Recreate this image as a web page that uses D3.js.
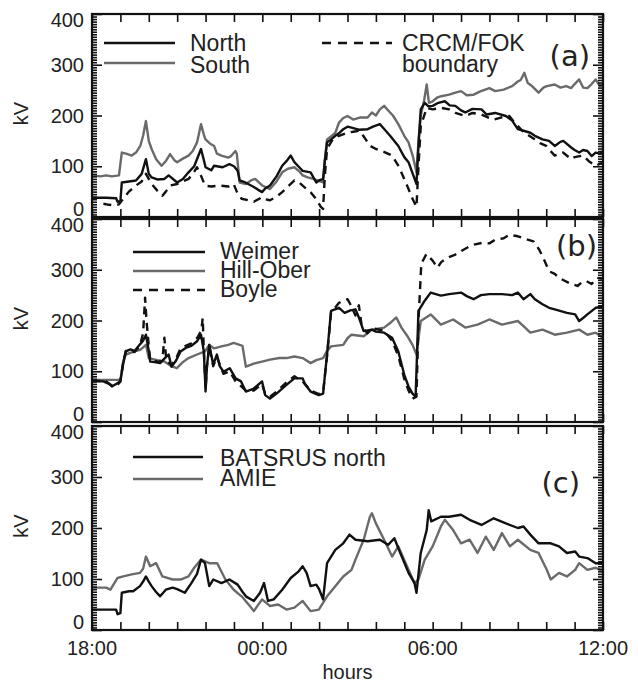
<!DOCTYPE html>
<html><head><meta charset="utf-8">
<script src="https://cdn.jsdelivr.net/npm/d3@7"></script>
<style>html,body{margin:0;padding:0;background:#fff;}svg{display:block;}</style>
</head><body>
<svg id="chart" width="638" height="684"></svg>
<script>
// hours after 18:00, value in kV
const yTickValues = [0, 100, 200, 300, 400];
const xTickHours = [0, 6, 12, 18];
const xTickLabels = ["18:00", "00:00", "06:00", "12:00"];

const northA = [[0,38],[0.5,38],[0.85,37],[0.9,30],[1.0,31],[1.05,68],[1.3,70],[1.55,72],[1.75,85],[1.9,114],[2.0,85],[2.1,78],[2.3,74],[2.55,75],[2.7,82],[3.0,68],[3.2,75],[3.4,88],[3.6,100],[3.84,134],[3.95,110],[4.0,98],[4.2,92],[4.3,101],[4.6,98],[4.84,104],[5.0,100],[5.13,91],[5.2,72],[5.4,68],[5.7,59],[5.9,52],[5.99,49],[6.1,56],[6.27,62],[6.5,80],[6.7,101],[6.85,110],[7.0,121],[7.13,108],[7.3,98],[7.42,91],[7.7,88],[7.9,68],[8.0,72],[8.14,75],[8.2,110],[8.28,147],[8.4,152],[8.57,160],[8.7,165],[8.85,173],[9.0,178],[9.14,176],[9.4,172],[9.71,173],[9.9,178],[10.14,183],[10.3,173],[10.5,160],[10.79,140],[11.0,118],[11.15,108],[11.3,85],[11.43,65],[11.5,140],[11.58,212],[11.72,225],[11.85,218],[12.0,219],[12.2,225],[12.43,228],[12.6,220],[12.8,219],[13.0,210],[13.15,206],[13.4,213],[13.72,212],[13.9,202],[14.2,205],[14.58,199],[14.8,190],[15.0,173],[15.2,170],[15.44,166],[15.6,160],[15.87,153],[16.1,150],[16.3,140],[16.5,148],[16.6,150],[16.88,137],[17.0,132],[17.16,127],[17.3,132],[17.45,130],[17.6,120],[17.74,127],[17.9,125],[18,130]];

const southA = [[0,82],[0.3,80],[0.5,82],[0.7,80],[0.95,82],[1.05,127],[1.2,125],[1.4,121],[1.55,127],[1.7,140],[1.8,160],[1.9,189],[2.0,150],[2.1,134],[2.26,114],[2.45,101],[2.6,110],[2.75,124],[2.9,112],[3.0,108],[3.2,115],[3.4,121],[3.55,130],[3.7,147],[3.84,183],[3.95,160],[4.0,153],[4.15,145],[4.3,140],[4.4,125],[4.56,121],[4.8,117],[4.9,120],[5.05,130],[5.1,125],[5.2,68],[5.42,65],[5.6,72],[5.75,75],[6.0,62],[6.27,55],[6.5,70],[6.7,88],[6.9,95],[7.13,98],[7.3,90],[7.42,82],[7.6,78],[7.8,75],[8.14,68],[8.2,110],[8.28,153],[8.45,160],[8.57,166],[8.7,186],[8.85,195],[9.0,199],[9.2,192],[9.43,196],[9.71,196],[9.86,206],[10.0,200],[10.14,212],[10.29,219],[10.45,209],[10.6,200],[10.79,183],[11.0,160],[11.15,147],[11.3,120],[11.43,88],[11.5,150],[11.58,199],[11.7,230],[11.79,261],[11.87,225],[12.0,228],[12.15,235],[12.3,238],[12.58,241],[12.8,245],[13.0,248],[13.2,240],[13.44,241],[13.7,248],[14.0,254],[14.2,248],[14.5,251],[14.8,258],[15.0,267],[15.1,270],[15.23,284],[15.35,264],[15.5,258],[15.73,245],[15.9,255],[16.02,258],[16.3,261],[16.5,255],[16.7,258],[16.88,254],[17.0,262],[17.16,271],[17.3,255],[17.45,254],[17.6,262],[17.74,271],[17.9,258],[18,264]];

const crcmA = [[0.4,26],[0.6,24],[0.8,23],[0.95,25],[1.1,36],[1.3,50],[1.55,62],[1.75,70],[1.9,85],[2.0,75],[2.1,65],[2.3,52],[2.48,42],[2.6,50],[2.75,62],[3.0,65],[3.2,70],[3.4,75],[3.55,85],[3.7,98],[3.85,80],[3.98,62],[4.2,60],[4.5,62],[4.8,60],[4.99,65],[5.1,50],[5.27,36],[5.5,33],[5.7,30],[5.99,39],[6.1,35],[6.27,33],[6.5,40],[6.7,49],[6.9,60],[7.13,72],[7.3,68],[7.5,58],[7.7,49],[7.9,35],[8.06,20],[8.14,16],[8.2,80],[8.28,134],[8.5,155],[8.7,160],[9.0,166],[9.2,168],[9.43,170],[9.64,153],[9.8,140],[10.0,134],[10.3,128],[10.57,121],[10.8,100],[11.0,75],[11.15,55],[11.29,36],[11.43,20],[11.5,100],[11.58,179],[11.79,215],[12.0,212],[12.3,215],[12.58,212],[12.8,205],[13.15,199],[13.4,205],[13.72,202],[14.0,195],[14.15,192],[14.4,196],[14.7,199],[14.9,185],[15.16,170],[15.4,160],[15.59,153],[15.8,145],[16.0,140],[16.15,130],[16.3,121],[16.59,127],[16.88,114],[17.0,118],[17.3,121],[17.5,110],[17.74,101],[17.9,105],[18,108]];

const weimerB = [[0,80],[0.4,80],[0.6,75],[0.7,70],[0.85,75],[1.0,80],[1.1,115],[1.19,139],[1.35,143],[1.5,140],[1.69,153],[1.8,160],[1.9,172],[2.0,140],[2.05,119],[2.2,118],[2.4,116],[2.55,125],[2.7,133],[2.8,109],[2.95,120],[3.12,139],[3.3,146],[3.5,150],[3.7,159],[3.84,172],[3.94,139],[4.0,60],[4.05,110],[4.13,152],[4.27,113],[4.4,133],[4.5,110],[4.63,99],[4.85,106],[5.06,86],[5.25,80],[5.42,60],[5.7,66],[5.99,80],[6.1,53],[6.27,46],[6.5,56],[6.85,73],[7.0,80],[7.13,86],[7.42,86],[7.5,75],[7.7,60],[7.99,53],[8.14,56],[8.2,90],[8.28,133],[8.42,219],[8.7,225],[8.9,215],[9.1,220],[9.28,222],[9.4,206],[9.57,179],[9.86,182],[10.0,178],[10.29,176],[10.57,166],[10.79,139],[11.0,93],[11.15,70],[11.29,56],[11.4,50],[11.5,219],[11.72,239],[11.93,255],[12.29,249],[12.58,252],[13.0,255],[13.2,248],[13.44,242],[13.7,250],[14.0,252],[14.44,252],[14.8,250],[15.0,255],[15.2,242],[15.44,252],[15.6,242],[15.87,232],[16.1,225],[16.3,222],[16.73,215],[17.02,212],[17.16,199],[17.3,205],[17.45,212],[17.74,225],[18,227]];

const hillB = [[0,83],[0.5,83],[1.0,83],[1.1,120],[1.19,133],[1.5,139],[1.7,142],[1.9,152],[2.0,126],[2.3,122],[2.55,119],[2.8,110],[2.99,106],[3.2,118],[3.4,126],[3.7,133],[3.98,139],[4.13,152],[4.3,145],[4.56,149],[4.8,152],[4.99,156],[5.2,152],[5.3,150],[5.42,109],[5.7,115],[5.99,119],[6.27,123],[6.6,126],[6.85,126],[7.13,129],[7.42,126],[7.7,116],[7.9,122],[8.14,126],[8.28,140],[8.42,149],[8.85,152],[9.0,165],[9.14,172],[9.57,169],[9.86,182],[10.29,186],[10.5,195],[10.72,206],[10.9,186],[11.1,170],[11.29,152],[11.43,133],[11.58,199],[11.93,212],[12.29,192],[12.72,202],[13.15,186],[13.58,192],[14.0,202],[14.44,192],[15.0,199],[15.2,189],[15.44,176],[15.87,182],[16.3,172],[16.73,176],[17.16,182],[17.45,172],[17.74,176],[18,166]];

const boyleB = [[0,82],[0.5,80],[0.7,72],[0.85,70],[1.0,80],[1.1,118],[1.19,140],[1.5,138],[1.69,150],[1.8,175],[1.87,245],[1.92,200],[2.0,150],[2.05,122],[2.4,118],[2.5,135],[2.55,166],[2.62,120],[2.8,112],[3.0,130],[3.12,145],[3.3,150],[3.5,155],[3.7,165],[3.85,180],[3.9,205],[3.94,140],[4.0,65],[4.05,110],[4.13,150],[4.27,110],[4.4,128],[4.63,95],[4.85,100],[5.06,80],[5.42,62],[5.7,62],[5.99,75],[6.1,55],[6.27,50],[6.5,60],[6.85,78],[7.13,90],[7.42,80],[7.7,62],[7.99,55],[8.14,58],[8.28,130],[8.42,215],[8.7,235],[9.0,242],[9.1,232],[9.28,210],[9.4,230],[9.5,190],[9.7,175],[9.86,185],[10.29,180],[10.57,160],[10.79,130],[11.0,85],[11.15,62],[11.29,46],[11.43,50],[11.5,199],[11.6,312],[11.78,331],[12.0,318],[12.17,304],[12.3,315],[12.5,323],[12.8,330],[13.1,340],[13.4,349],[13.75,353],[14.0,352],[14.2,359],[14.5,362],[14.7,369],[15.0,366],[15.2,362],[15.55,356],[15.75,340],[15.9,323],[16.1,297],[16.3,292],[16.45,284],[16.8,274],[17.1,268],[17.25,275],[17.4,278],[17.6,272],[17.8,284],[18,282]];

const batsC = [[0,40],[0.5,40],[0.85,40],[0.9,31],[1.0,33],[1.05,73],[1.3,76],[1.45,76],[1.69,86],[1.8,95],[1.9,105],[2.0,95],[2.1,86],[2.25,75],[2.4,66],[2.6,79],[2.84,83],[3.0,80],[3.27,73],[3.5,92],[3.7,110],[3.84,138],[3.98,131],[4.13,86],[4.27,99],[4.56,92],[4.84,99],[5.13,89],[5.3,75],[5.42,66],[5.7,57],[5.92,73],[6.06,92],[6.2,57],[6.4,60],[6.7,79],[7.0,102],[7.28,115],[7.42,125],[7.56,112],[7.7,86],[7.9,89],[8.0,80],[8.14,60],[8.28,131],[8.57,157],[8.85,170],[9.07,187],[9.28,177],[9.71,174],[10.14,177],[10.43,167],[10.65,180],[10.86,151],[11.15,112],[11.36,92],[11.43,73],[11.58,151],[11.79,196],[11.86,235],[11.95,213],[12.29,222],[12.58,222],[13.0,226],[13.3,216],[13.72,206],[14.15,219],[14.58,209],[15.0,200],[15.2,203],[15.44,187],[15.73,170],[16.16,170],[16.45,164],[16.73,151],[17.02,154],[17.16,144],[17.45,141],[17.74,131],[18,131]];

const amieC = [[0,83],[0.5,83],[0.65,79],[0.9,102],[1.1,105],[1.4,109],[1.69,112],[1.8,120],[1.9,144],[2.05,125],[2.26,131],[2.48,105],[2.84,99],[3.12,99],[3.4,105],[3.6,122],[3.84,138],[4.13,131],[4.41,131],[4.7,99],[4.99,79],[5.27,66],[5.56,47],[5.7,37],[5.99,60],[6.27,47],[6.56,50],[6.85,40],[7.13,44],[7.42,57],[7.7,37],[7.99,40],[8.28,66],[8.57,86],[8.85,105],[9.14,118],[9.28,138],[9.57,177],[9.79,222],[9.86,229],[10.0,209],[10.29,177],[10.57,144],[10.79,164],[11.15,118],[11.36,92],[11.5,99],[11.72,138],[12.0,164],[12.29,203],[12.43,216],[12.72,196],[13.0,170],[13.3,177],[13.58,151],[13.87,183],[14.15,157],[14.44,190],[14.72,164],[15.0,177],[15.44,157],[15.73,151],[16.02,118],[16.16,99],[16.45,112],[16.73,105],[17.02,118],[17.16,131],[17.45,118],[17.74,122],[18,115]];

const BLACK = "#111", GRAY = "#6a6a6a";
const FONT = "'Liberation Sans', Arial, Helvetica, sans-serif";

const panels = [
  { top: 14, bottom: 217, tag: "(a)", tagRight: 590, tagBase: 66,
    series: [{d: southA, c: GRAY}, {d: northA, c: BLACK}, {d: crcmA, c: BLACK, dash: "8,6"}],
    legend: [
      {x1: 104, x2: 175, y: 43, c: BLACK, label: "North", tx: 190, ty: 51},
      {x1: 104, x2: 175, y: 63, c: GRAY, label: "South", tx: 190, ty: 73},
      {x1: 322, x2: 392, y: 43, c: BLACK, dash: "9,7", label: "CRCM/FOK", tx: 402, ty: 51},
      {label: "boundary", tx: 402, ty: 72}
    ]},
  { top: 219, bottom: 422, tag: "(b)", tagRight: 597, tagBase: 256,
    series: [{d: hillB, c: GRAY}, {d: weimerB, c: BLACK}, {d: boyleB, c: BLACK, dash: "8,6"}],
    legend: [
      {x1: 133, x2: 205, y: 252, c: BLACK, label: "Weimer", tx: 220, ty: 259},
      {x1: 133, x2: 205, y: 271, c: GRAY, label: "Hill-Ober", tx: 220, ty: 278},
      {x1: 133, x2: 205, y: 290, c: BLACK, dash: "9,7", label: "Boyle", tx: 220, ty: 297}
    ]},
  { top: 426, bottom: 630, tag: "(c)", tagRight: 580, tagBase: 493,
    series: [{d: amieC, c: GRAY}, {d: batsC, c: BLACK}],
    legend: [
      {x1: 133, x2: 203, y: 457, c: BLACK, label: "BATSRUS north", tx: 220, ty: 466},
      {x1: 133, x2: 203, y: 479, c: GRAY, label: "AMIE", tx: 220, ty: 486}
    ]}
];

const svg = d3.select("#chart");
const x = d3.scaleLinear().domain([0, 18]).range([92, 603]);

panels.forEach((p, i) => {
  const y = d3.scaleLinear().domain([0, 400]).range([p.bottom, p.top]);
  const g = svg.append("g");
  const clipId = "clip" + i;
  svg.append("clipPath").attr("id", clipId).append("rect")
    .attr("x", x(0)).attr("y", p.top).attr("width", x(18) - x(0)).attr("height", p.bottom - p.top);

  const line = d3.line().x(d => x(d[0])).y(d => y(d[1]));
  const lg = g.append("g").attr("clip-path", `url(#${clipId})`);
  p.series.forEach(s => {
    lg.append("path").attr("d", line(s.d)).attr("fill", "none")
      .attr("stroke", s.c).attr("stroke-width", 2.4)
      .attr("stroke-linejoin", "round")
      .attr("stroke-dasharray", s.dash || null);
  });

  // minor y ticks (every 5 kV) left & right
  const minor = d3.range(0, 401, 5).filter(v => v % 100 !== 0);
  const ml = g.append("g").attr("transform", `translate(${x(0)},0)`)
    .call(d3.axisRight(y).tickValues(minor).tickSize(5).tickFormat(""));
  const mr = g.append("g").attr("transform", `translate(${x(18)},0)`)
    .call(d3.axisLeft(y).tickValues(minor).tickSize(5).tickFormat(""));
  const majL = g.append("g").attr("transform", `translate(${x(0)},0)`)
    .call(d3.axisRight(y).tickValues(yTickValues).tickSize(10).tickFormat(""));
  const majR = g.append("g").attr("transform", `translate(${x(18)},0)`)
    .call(d3.axisLeft(y).tickValues(yTickValues).tickSize(10).tickFormat(""));
  // x ticks every hour top & bottom
  const hours = d3.range(0, 19, 1);
  const xt = g.append("g").attr("transform", `translate(0,${p.top})`)
    .call(d3.axisBottom(x).tickValues(hours).tickSize(8).tickFormat(""));
  const xb = g.append("g").attr("transform", `translate(0,${p.bottom})`)
    .call(d3.axisTop(x).tickValues(hours).tickSize(8).tickFormat(""));
  [ml, mr, majL, majR, xt, xb].forEach(a => {
    a.select(".domain").remove();
    a.selectAll("line").attr("stroke", BLACK).attr("stroke-width", 1.6);
  });

  // frame
  g.append("rect").attr("x", x(0)).attr("y", p.top)
    .attr("width", x(18) - x(0)).attr("height", p.bottom - p.top)
    .attr("fill", "none").attr("stroke", BLACK).attr("stroke-width", 2.2);

  // y tick labels
  g.selectAll("text.yl").data(yTickValues).enter().append("text")
    .attr("x", 84)
    .attr("y", v => y(v) + (v === 400 ? 6 : v === 0 ? -8 : 0))
    .attr("dy", "0.35em")
    .attr("text-anchor", "end")
    .attr("font-family", FONT).attr("font-size", 20).attr("fill", "#222")
    .text(v => v);

  // kV label
  g.append("text")
    .attr("transform", `translate(28,${(p.top + p.bottom) / 2 - 2}) rotate(-90)`)
    .attr("text-anchor", "middle")
    .attr("font-family", FONT).attr("font-size", 20).attr("fill", "#222")
    .text("kV");

  // legend
  p.legend.forEach(l => {
    if (l.x1 !== undefined) {
      g.append("line").attr("x1", l.x1).attr("x2", l.x2).attr("y1", l.y).attr("y2", l.y)
        .attr("stroke", l.c).attr("stroke-width", 2.6)
        .attr("stroke-dasharray", l.dash || null);
    }
    g.append("text").attr("x", l.tx).attr("y", l.ty)
      .attr("font-family", FONT).attr("font-size", 23).attr("fill", "#222")
      .text(l.label);
  });

  // panel tag
  g.append("text").attr("x", p.tagRight).attr("y", p.tagBase)
    .attr("text-anchor", "end")
    .attr("font-family", "'DejaVu Sans', sans-serif").attr("font-size", 29).attr("fill", "#222")
    .text(p.tag);
});

// x tick labels
svg.selectAll("text.xl").data(xTickHours).enter().append("text")
  .attr("x", h => x(h)).attr("y", 655)
  .attr("text-anchor", "middle")
  .attr("font-family", FONT).attr("font-size", 20).attr("fill", "#222")
  .text((h, i) => xTickLabels[i]);

svg.append("text").attr("x", (x(0) + x(18)) / 2).attr("y", 679)
  .attr("text-anchor", "middle")
  .attr("font-family", FONT).attr("font-size", 20).attr("fill", "#222")
  .text("hours");
</script>
</body></html>
